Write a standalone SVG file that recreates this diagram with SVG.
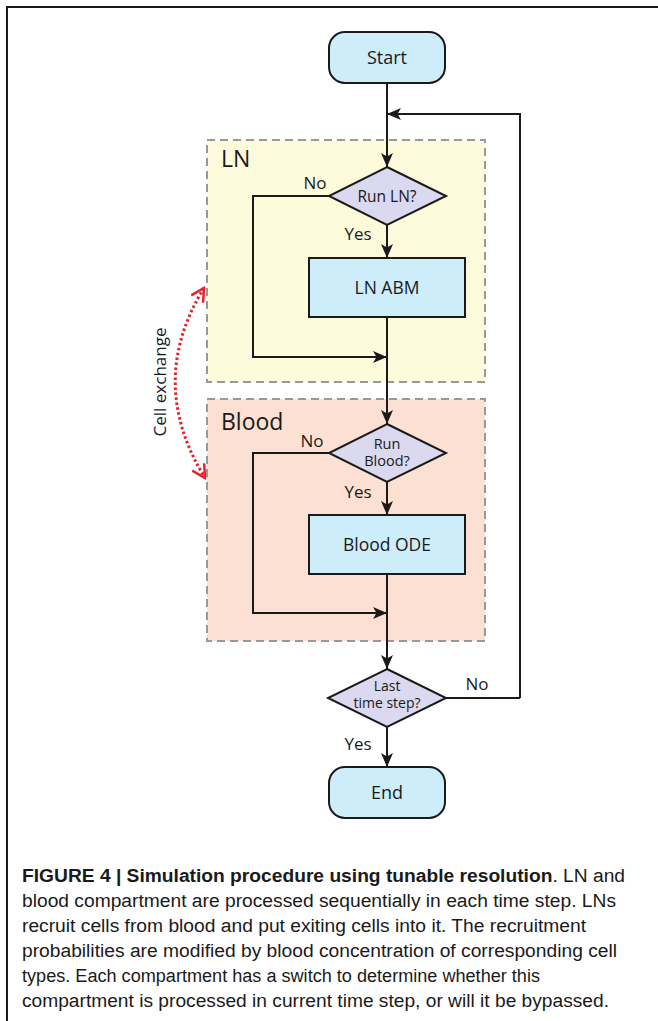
<svg xmlns="http://www.w3.org/2000/svg" width="658" height="1021" viewBox="0 0 658 1021">
<defs>
<style>
.lbl{font-family:"Open Sans","Liberation Sans",sans-serif;fill:#1a1a1a;}
.node{stroke:#1a1a1a;stroke-width:2;}
.term{fill:#cdedfb;}
.proc{fill:#cdedfb;}
.dec{fill:#dad9ef;}
.region{stroke:#999;stroke-width:2;stroke-dasharray:8 5;}
.flow{fill:none;stroke:#1a1a1a;stroke-width:2;}
.cap{font-family:"Liberation Sans",Arial,sans-serif;font-size:18px;fill:#1a1a1a;}
</style>
<marker id="ah" viewBox="0 0 14 12" refX="14" refY="6" markerWidth="14" markerHeight="12" markerUnits="userSpaceOnUse" orient="auto">
<path d="M0,0 L14,6 L0,12 L3.5,6 Z" fill="#1a1a1a"/>
</marker>
<marker id="rh" viewBox="0 0 16 16" refX="14" refY="8" markerWidth="16" markerHeight="16" markerUnits="userSpaceOnUse" orient="auto-start-reverse">
<path d="M1,1 L14,8 L1,15" fill="none" stroke="#e5212a" stroke-width="2.5"/>
</marker>
</defs>
<path d="M7,1021 V7 H658" fill="none" stroke="#1a1a1a" stroke-width="2"/>

<g id="region-ln">
<rect x="207" y="140" width="278" height="242" fill="#fdfbdc" class="region"/>
<text x="221" y="167" class="lbl" font-size="23">LN</text>
</g>
<g id="region-blood">
<rect x="207" y="399" width="278" height="242" fill="#fce0d3" class="region"/>
<text x="221" y="430" class="lbl" font-size="23">Blood</text>
</g>

<g id="connectors">
<path class="flow" d="M387,83 V167" marker-end="url(#ah)"/>
<path class="flow" d="M520,698 H446 M520,698 V114 H387" marker-end="url(#ah)"/>
<path class="flow" d="M387,225 V258" marker-end="url(#ah)"/>
<path class="flow" d="M329,196 H253 V357 H387" marker-end="url(#ah)"/>
<path class="flow" d="M387,317 V424" marker-end="url(#ah)"/>
<path class="flow" d="M387,482 V515" marker-end="url(#ah)"/>
<path class="flow" d="M329,453 H253 V613 H387" marker-end="url(#ah)"/>
<path class="flow" d="M387,574 V669" marker-end="url(#ah)"/>
<path class="flow" d="M387,727 V767" marker-end="url(#ah)"/>
<text x="315" y="189" class="lbl" font-size="17" text-anchor="middle">No</text>
<text x="358" y="240" class="lbl" font-size="17" text-anchor="middle">Yes</text>
<text x="312" y="447" class="lbl" font-size="17" text-anchor="middle">No</text>
<text x="358" y="498" class="lbl" font-size="17" text-anchor="middle">Yes</text>
<text x="477" y="690" class="lbl" font-size="17" text-anchor="middle">No</text>
<text x="358" y="750" class="lbl" font-size="17" text-anchor="middle">Yes</text>
</g>

<g id="cell-exchange">
<path d="M204,288 Q146,382 205,478" fill="none" stroke="#e5212a" stroke-width="3" stroke-dasharray="2.5 2.5" marker-start="url(#rh)" marker-end="url(#rh)"/>
<text transform="translate(166,382) rotate(-90)" class="lbl" font-size="17" text-anchor="middle">Cell exchange</text>
</g>

<g id="start">
<rect x="329" y="32" width="116" height="51" rx="16" class="node term"/>
<text x="387" y="64" class="lbl" font-size="18" text-anchor="middle">Start</text>
</g>
<g id="run-ln">
<polygon points="387,167 446,196 387,225 329,196" class="node dec"/>
<text x="387" y="202" class="lbl" font-size="15.5" text-anchor="middle">Run LN?</text>
</g>
<g id="ln-abm">
<rect x="309" y="258" width="156" height="59" class="node proc"/>
<text x="387" y="294" class="lbl" font-size="17.5" text-anchor="middle">LN ABM</text>
</g>
<g id="run-blood">
<polygon points="387,424 446,453 387,482 329,453" class="node dec"/>
<text x="387" y="449" class="lbl" font-size="14.5" text-anchor="middle">Run</text>
<text x="387" y="466" class="lbl" font-size="14.5" text-anchor="middle">Blood?</text>
</g>
<g id="blood-ode">
<rect x="309" y="515" width="156" height="59" class="node proc"/>
<text x="387" y="551" class="lbl" font-size="17.5" text-anchor="middle">Blood ODE</text>
</g>
<g id="last-step">
<polygon points="387,669 446,698 387,727 328,698" class="node dec"/>
<text x="387" y="691" class="lbl" font-size="14" text-anchor="middle">Last</text>
<text x="387" y="707.5" class="lbl" font-size="14" text-anchor="middle">time step?</text>
</g>
<g id="end">
<rect x="329" y="767" width="116" height="51" rx="16" class="node term"/>
<text x="387" y="799" class="lbl" font-size="18" text-anchor="middle">End</text>
</g>

<g id="caption">
<text x="22" y="882" class="cap" textLength="603" lengthAdjust="spacingAndGlyphs"><tspan font-weight="bold">FIGURE 4 | Simulation procedure using tunable resolution</tspan>. LN and</text>
<text x="22" y="907" class="cap" textLength="594" lengthAdjust="spacingAndGlyphs">blood compartment are processed sequentially in each time step. LNs</text>
<text x="22" y="932" class="cap" textLength="564" lengthAdjust="spacingAndGlyphs">recruit cells from blood and put exiting cells into it. The recruitment</text>
<text x="22" y="957" class="cap" textLength="595" lengthAdjust="spacingAndGlyphs">probabilities are modified by blood concentration of corresponding cell</text>
<text x="22" y="982" class="cap" textLength="518" lengthAdjust="spacingAndGlyphs">types. Each compartment has a switch to determine whether this</text>
<text x="22" y="1007" class="cap" textLength="587" lengthAdjust="spacingAndGlyphs">compartment is processed in current time step, or will it be bypassed.</text>
</g>
</svg>
